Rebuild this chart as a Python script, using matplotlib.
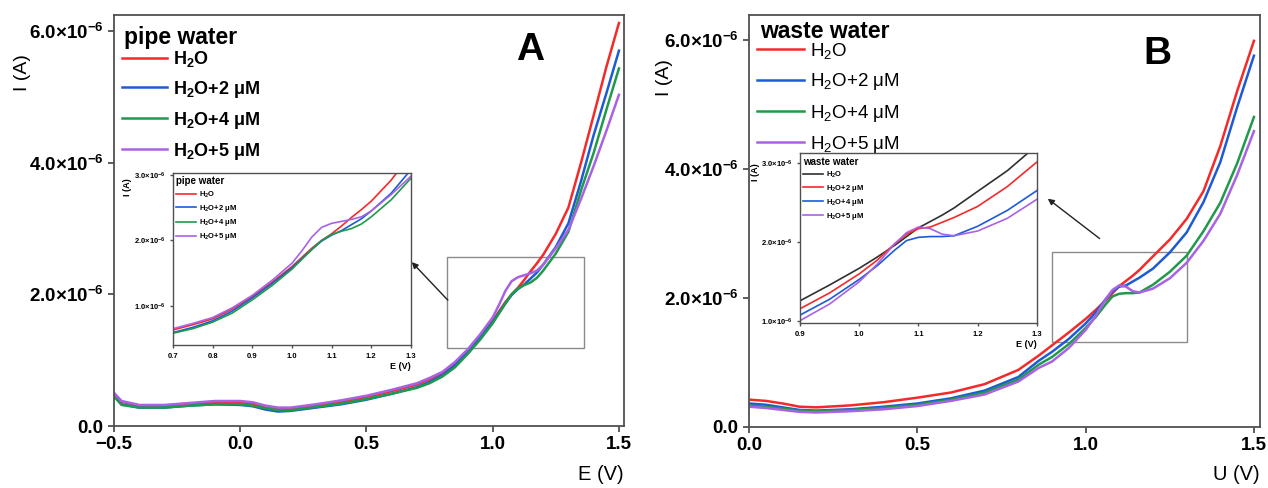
import numpy as np
import matplotlib
matplotlib.use("Agg")
import matplotlib.pyplot as plt
from matplotlib.patches import Rectangle
from matplotlib.ticker import FuncFormatter

plt.rcParams['font.family'] = ['Liberation Sans', 'DejaVu Sans']
plt.rcParams['mathtext.fontset'] = 'custom'
plt.rcParams['mathtext.rm'] = 'Liberation Sans'
plt.rcParams['mathtext.bf'] = 'Liberation Sans:bold'
plt.rcParams['mathtext.default'] = 'rm'

# ---- pipe water (A), current in uA ----
E_pipe = [-0.5, -0.47, -0.4, -0.3, -0.2, -0.1, 0.0, 0.05, 0.1, 0.15, 0.2, 0.3, 0.4, 0.5,
          0.6, 0.7, 0.75, 0.8, 0.85, 0.9, 0.95, 1.0, 1.025, 1.05, 1.075, 1.1, 1.125, 1.15,
          1.175, 1.2, 1.25, 1.3, 1.35, 1.4, 1.45, 1.5]
pipe_h2o = [0.50, 0.37, 0.31, 0.31, 0.34, 0.36, 0.36, 0.34, 0.29, 0.26, 0.26, 0.31, 0.37, 0.44,
            0.53, 0.63, 0.71, 0.80, 0.95, 1.14, 1.36, 1.60, 1.74, 1.88, 2.00, 2.10, 2.22, 2.35,
            2.47, 2.60, 2.92, 3.32, 4.00, 4.72, 5.45, 6.12]
pipe_2uM = [0.46, 0.33, 0.28, 0.28, 0.31, 0.33, 0.32, 0.30, 0.25, 0.22, 0.23, 0.28, 0.33, 0.40,
            0.49, 0.59, 0.67, 0.77, 0.92, 1.12, 1.34, 1.58, 1.72, 1.86, 1.99, 2.08, 2.15, 2.24,
            2.33, 2.45, 2.72, 3.08, 3.72, 4.42, 5.05, 5.70]
pipe_4uM = [0.45, 0.32, 0.28, 0.28, 0.31, 0.33, 0.33, 0.31, 0.27, 0.24, 0.24, 0.29, 0.34, 0.41,
            0.49, 0.58, 0.65, 0.75, 0.89, 1.09, 1.31, 1.56, 1.71, 1.86, 2.00, 2.09, 2.14, 2.18,
            2.25, 2.36, 2.62, 2.95, 3.58, 4.15, 4.80, 5.43]
pipe_5uM = [0.50, 0.38, 0.32, 0.32, 0.35, 0.38, 0.38, 0.36, 0.31, 0.28, 0.28, 0.33, 0.39, 0.46,
            0.55, 0.65, 0.73, 0.82, 0.97, 1.16, 1.39, 1.65, 1.84, 2.05, 2.20, 2.26, 2.29, 2.32,
            2.36, 2.45, 2.70, 2.98, 3.45, 3.95, 4.48, 5.03]

# ---- waste water (B), current in uA ----
U_waste = [0.0, 0.05, 0.1, 0.15, 0.2, 0.3, 0.4, 0.5, 0.6, 0.7, 0.8, 0.86, 0.9, 0.95, 1.0, 1.03,
           1.06, 1.08, 1.1, 1.12, 1.14, 1.16, 1.2, 1.25, 1.3, 1.35, 1.4, 1.45, 1.5]
waste_h2o = [0.42, 0.40, 0.36, 0.31, 0.30, 0.33, 0.38, 0.45, 0.53, 0.66, 0.88, 1.10, 1.26, 1.46,
             1.67, 1.81, 1.96, 2.07, 2.18, 2.26, 2.34, 2.43, 2.64, 2.90, 3.22, 3.65, 4.35, 5.20, 5.98]
waste_2uM = [0.36, 0.34, 0.30, 0.26, 0.25, 0.27, 0.31, 0.36, 0.44, 0.56, 0.77, 1.02, 1.16, 1.36,
             1.60, 1.77, 1.98, 2.10, 2.17, 2.19, 2.25, 2.31, 2.45, 2.70, 3.01, 3.48, 4.10, 4.95, 5.75]
waste_4uM = [0.33, 0.31, 0.28, 0.25, 0.24, 0.26, 0.29, 0.34, 0.42, 0.53, 0.73, 0.96, 1.08, 1.28,
             1.53, 1.70, 1.90, 2.02, 2.06, 2.07, 2.07, 2.08, 2.20, 2.40, 2.65, 3.03, 3.47, 4.08, 4.80]
waste_5uM = [0.31, 0.29, 0.26, 0.23, 0.22, 0.24, 0.27, 0.32, 0.40, 0.50, 0.70, 0.91, 1.01, 1.22,
             1.50, 1.72, 1.98, 2.12, 2.19, 2.17, 2.10, 2.08, 2.14, 2.30, 2.54, 2.88, 3.30, 3.90, 4.58]

labels_bold = ["H$_\\mathbf{2}$O", "H$_\\mathbf{2}$O+2 μM", "H$_\\mathbf{2}$O+4 μM", "H$_\\mathbf{2}$O+5 μM"]
labels_reg = ["H$_2$O", "H$_2$O+2 μM", "H$_2$O+4 μM", "H$_2$O+5 μM"]
colors = ['#f42a2a', '#1d5bd6', '#1f9a4a', '#a962e4']
colors_inset_B = ['#303030', '#f42a2a', '#1d5bd6', '#a962e4']

uA = 1e-6
spine_col = '#505050'


def big_fmt(v, pos):
    if abs(v) < 1e-12:
        return "0.0"
    return "%.1f×10$^{\\mathbf{-6}}$" % (v / uA)


def small_fmt(v, pos):
    return "%.1f×10$^{\\mathbf{-6}}$" % (v / uA)


def style_axes(ax, fs, lw, tlen):
    for s in ax.spines.values():
        s.set_color(spine_col)
        s.set_linewidth(lw)
    ax.tick_params(direction='out', length=tlen, width=lw, color=spine_col,
                   labelsize=fs, top=False, right=False)
    for t in ax.get_xticklabels() + ax.get_yticklabels():
        t.set_fontweight('bold')


fig = plt.figure(figsize=(12.68, 4.88), dpi=100)

# ================= A =================
axA = fig.add_axes([0.0899, 0.127, 0.4022, 0.842])
for ys, c, lab in zip([pipe_h2o, pipe_2uM, pipe_4uM, pipe_5uM], colors, labels_bold):
    axA.plot(E_pipe, np.array(ys) * uA, color=c, lw=1.8, label=lab)
axA.set_xlim(-0.5, 1.52)
axA.set_ylim(0, 6.24e-6)
axA.set_xticks([-0.5, 0.0, 0.5, 1.0, 1.5])
axA.set_yticks([0, 2e-6, 4e-6, 6e-6])
axA.yaxis.set_major_formatter(FuncFormatter(big_fmt))
style_axes(axA, 13.5, 1.3, 4)
axA.set_xlabel("E (V)", fontsize=14.5, loc='right', labelpad=8)
axA.set_ylabel("I (A)", fontsize=14)
axA.yaxis.set_label_coords(-0.163, 0.861)
axA.text(0.02, 0.93, "pipe water", transform=axA.transAxes, fontsize=16.5,
         fontweight='bold', ha='left', va='baseline')
axA.legend(loc='upper left', bbox_to_anchor=(0.0157, 0.918), frameon=False,
           prop={'weight': 'bold', 'size': 13},
           handlelength=2.5, handletextpad=0.35, labelspacing=0.55,
           borderaxespad=0.0, borderpad=0.0)
axA.text(0.815, 0.915, "A", transform=axA.transAxes, fontsize=28, fontweight='bold',
         ha='center', va='center')
axA.add_patch(Rectangle((0.82, 1.19e-6), 0.54, 1.37e-6, fill=False, ec='#8a8a8a', lw=1.0))
axA.annotate("", xy=(0.672, 2.52e-6), xytext=(0.83, 1.88e-6),
             arrowprops=dict(arrowstyle='-|>', color='#222222', lw=1.0, mutation_scale=9))

# inset A
inA = fig.add_axes([0.1364, 0.293, 0.1877, 0.3525])
for ys, c, lab in zip([pipe_h2o, pipe_2uM, pipe_4uM, pipe_5uM], colors, labels_bold):
    inA.plot(E_pipe, np.array(ys) * uA, color=c, lw=1.2, label=lab)
inA.set_xlim(0.7, 1.3)
inA.set_ylim(0.40e-6, 3.03e-6)
inA.set_xticks([0.7, 0.8, 0.9, 1.0, 1.1, 1.2, 1.3])
inA.set_yticks([1e-6, 2e-6, 3e-6])
inA.yaxis.set_major_formatter(FuncFormatter(small_fmt))
style_axes(inA, 5.5, 1.0, 2)
inA.set_xlabel("E (V)", fontsize=6.5, fontweight='bold', loc='right', labelpad=2)
inA.set_ylabel("I (A)", fontsize=6.5, fontweight='bold')
inA.yaxis.set_label_coords(-0.17, 0.92)
inA.legend(loc='upper left', frameon=False, title="pipe water",
           prop={'weight': 'bold', 'size': 5.5},
           title_fontproperties={'weight': 'bold', 'size': 7},
           handlelength=2.6, handletextpad=0.4, labelspacing=0.42,
           borderaxespad=0.2, borderpad=0.25, alignment='left')

# ================= B =================
axB = fig.add_axes([0.5907, 0.1256, 0.403, 0.8436])
for ys, c, lab in zip([waste_h2o, waste_2uM, waste_4uM, waste_5uM], colors, labels_reg):
    axB.plot(U_waste, np.array(ys) * uA, color=c, lw=1.8, label=lab)
axB.set_xlim(0, 1.518)
axB.set_ylim(0, 6.38e-6)
axB.set_xticks([0.0, 0.5, 1.0, 1.5])
axB.set_yticks([0, 2e-6, 4e-6, 6e-6])
axB.yaxis.set_major_formatter(FuncFormatter(big_fmt))
style_axes(axB, 13.5, 1.3, 4)
axB.set_xlabel("U (V)", fontsize=14.5, loc='right', labelpad=8)
axB.set_ylabel("I (A)", fontsize=14)
axB.yaxis.set_label_coords(-0.149, 0.847)
axB.text(0.0215, 0.945, "waste water", transform=axB.transAxes, fontsize=16.5,
         fontweight='bold', ha='left', va='baseline')
axB.legend(loc='upper left', bbox_to_anchor=(0.0157, 0.937), frameon=False,
           prop={'size': 13.5},
           handlelength=2.5, handletextpad=0.3, labelspacing=0.55,
           borderaxespad=0.0, borderpad=0.0)
axB.text(0.80, 0.905, "B", transform=axB.transAxes, fontsize=28, fontweight='bold',
         ha='center', va='center')
axB.add_patch(Rectangle((0.90, 1.32e-6), 0.40, 1.38e-6, fill=False, ec='#8a8a8a', lw=1.0))
axB.annotate("", xy=(0.881, 3.56e-6), xytext=(1.048, 2.89e-6),
             arrowprops=dict(arrowstyle='-|>', color='#222222', lw=1.0, mutation_scale=9))

# inset B
inB = fig.add_axes([0.6309, 0.338, 0.1869, 0.348])
for ys, c, lab in zip([waste_h2o, waste_2uM, waste_4uM, waste_5uM], colors_inset_B, labels_bold):
    inB.plot(U_waste, np.array(ys) * uA, color=c, lw=1.2, label=lab)
inB.set_xlim(0.9, 1.3)
inB.set_ylim(0.98e-6, 3.12e-6)
inB.set_xticks([0.9, 1.0, 1.1, 1.2, 1.3])
inB.set_yticks([1e-6, 2e-6, 3e-6])
inB.yaxis.set_major_formatter(FuncFormatter(small_fmt))
style_axes(inB, 5.5, 1.0, 2)
inB.set_xlabel("E (V)", fontsize=6.5, fontweight='bold', loc='right', labelpad=2)
inB.set_ylabel("I (A)", fontsize=6.5, fontweight='bold')
inB.yaxis.set_label_coords(-0.17, 0.89)
inB.legend(loc='upper left', frameon=False, title="waste water",
           prop={'weight': 'bold', 'size': 5.5},
           title_fontproperties={'weight': 'bold', 'size': 7},
           handlelength=2.6, handletextpad=0.4, labelspacing=0.4,
           borderaxespad=0.2, borderpad=0.25, alignment='left')

fig.savefig("out.png", dpi=100)
